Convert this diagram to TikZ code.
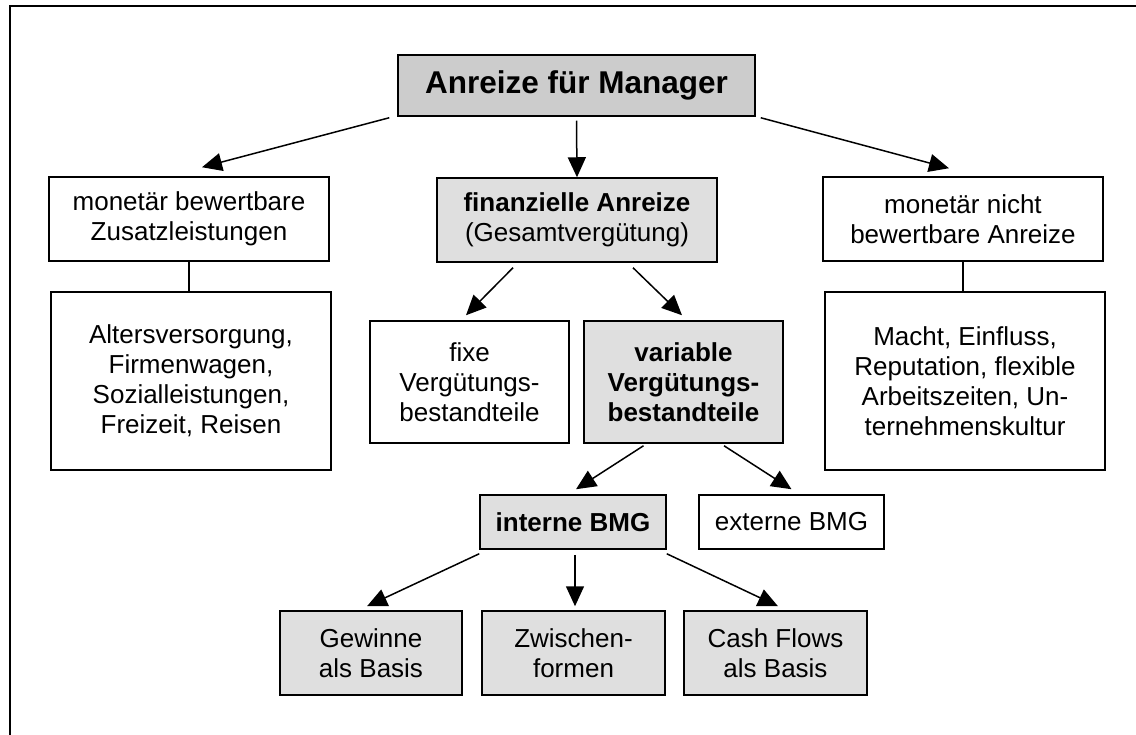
\documentclass[tikz,border=0pt]{standalone}
\usepackage{fontspec}
\setmainfont{Liberation Sans}
\usepackage{tikz}
\usetikzlibrary{arrows.meta, positioning}

\tikzset{
  box/.style={draw, line width=1.5pt, align=center, inner sep=2pt,
    font=\fontsize{26}{30}\selectfont},
  lightbox/.style={box, fill=gray!25},
  darkbox/.style={box, fill=gray!40},
  arr/.style={line width=1.5pt, -{Triangle[length=20pt,width=18pt]}},
  link/.style={line width=1.5pt}
}

\begin{document}
\begin{tikzpicture}[x=1pt, y=-1pt]
        \useasboundingbox (0,0) rectangle (1136,735);
        \draw[line width=2pt] (10,735) -- (10,6.5) -- (1136,6.5);

        % top
        \node[darkbox, minimum width=357pt, minimum height=61pt,
              font=\fontsize{31.5}{36}\selectfont\bfseries] (root) at (576.5,85.5) {Anreize für Manager};

        % second row
        \node[box, minimum width=280pt, minimum height=84pt] (mbz) at (189,219) {monetär bewertbare\\Zusatzleistungen};
        \node[lightbox, minimum width=280pt, minimum height=84pt] (finanz) at (577,220) {\textbf{finanzielle Anreize}\\(Gesamtvergütung)};
        \node[box, minimum width=280pt, minimum height=84pt] (mnba) at (963,219) {monetär nicht\\bewertbare Anreize};

        % third row
        \node[box, minimum width=280pt, minimum height=178pt] (alters) at (191,381) {Altersversorgung,\\Firmenwagen,\\Sozialleistungen,\\Freizeit, Reisen};
        \node[box, minimum width=199pt, minimum height=122pt] (fixe) at (469.5,382) {fixe\\Vergütungs-\\bestandteile};
        \node[lightbox, minimum width=199pt, minimum height=122pt, font=\fontsize{26}{30}\selectfont\bfseries] (variable) at (683.5,382) {variable\\Vergütungs-\\bestandteile};
        \node[box, minimum width=280pt, minimum height=178pt] (macht) at (965,381) {Macht, Einfluss,\\Reputation, flexible\\Arbeitszeiten, Un-\\ternehmenskultur};

        % BMG
        \node[lightbox, minimum width=186pt, minimum height=54pt, font=\fontsize{26}{30}\selectfont\bfseries] (interne) at (573,522) {interne BMG};
        \node[box, minimum width=185pt, minimum height=54pt] (externe) at (791.5,522) {externe BMG};

        % bottom row
        \node[lightbox, minimum width=182pt, minimum height=84pt] (gewinne) at (371,653) {Gewinne\\als Basis};
        \node[lightbox, minimum width=183pt, minimum height=84pt] (zwischen) at (573.5,653) {Zwischen-\\formen};
        \node[lightbox, minimum width=183pt, minimum height=84pt] (cash) at (775.5,653) {Cash Flows\\als Basis};

        % connectors
        \draw[arr] ([xshift=-8pt,yshift=-1pt]root.south west) -- ([xshift=13pt,yshift=9pt]mbz.north);
        \draw[arr] ([yshift=-4pt]root.south) -- (finanz.north);
        \draw[arr] ([xshift=5pt,yshift=-1pt]root.south east) -- ([xshift=-14pt,yshift=8pt]mnba.north);
        \draw[link] (mbz.south) -- (mbz.south |- alters.north);
        \draw[link] (mnba.south) -- (mnba.south |- macht.north);
        \draw[arr] ([xshift=-64pt,yshift=-5pt]finanz.south) -- ([xshift=-3.5pt,yshift=5pt]fixe.north);
        \draw[arr] ([xshift=56pt,yshift=-5pt]finanz.south) -- ([xshift=-1.5pt,yshift=5pt]variable.north);
        \draw[arr] ([xshift=-40pt,yshift=-2pt]variable.south) -- ([xshift=3pt,yshift=5pt]interne.north);
        \draw[arr] ([xshift=40.5pt,yshift=-2pt]variable.south) -- ([yshift=5pt]externe.north);
        \draw[arr] ([yshift=-4pt]interne.south west) -- ([xshift=-4pt,yshift=4pt]gewinne.north);
        \draw[arr] ([xshift=2pt,yshift=-5pt]interne.south) -- ([xshift=1.5pt,yshift=4pt]zwischen.north);
        \draw[arr] ([yshift=-4pt]interne.south east) -- ([xshift=2.5pt,yshift=4pt]cash.north);
\end{tikzpicture}
\end{document}
